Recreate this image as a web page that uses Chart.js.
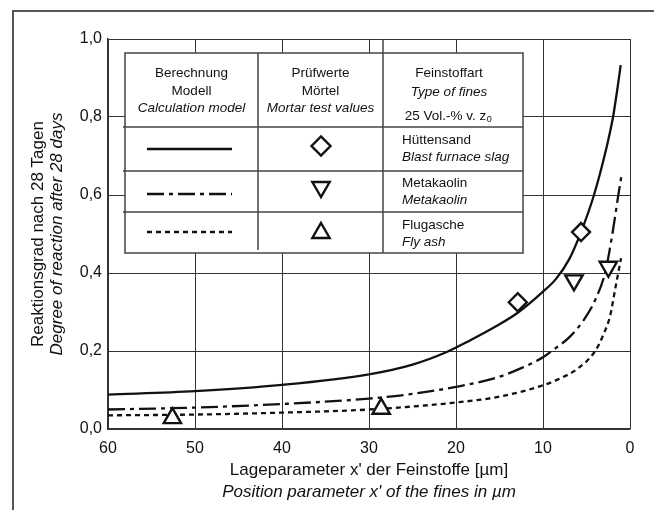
<!DOCTYPE html>
<html>
<head>
<meta charset="utf-8">
<script src="https://cdn.jsdelivr.net/npm/chart.js@4.4.0/dist/chart.umd.min.js"></script>
<style>
  html, body { margin: 0; padding: 0; background: #fff; }
</style>
</head>
<body>
<canvas id="myChart" width="654" height="510"></canvas>
<script>
// axis ticks
const xTickLabels = ['60', '50', '40', '30', '20', '10', '0'];
const yTickLabels = ['0,0', '0,2', '0,4', '0,6', '0,8', '1,0'];

// model curves: position parameter x' (µm) and degree of reaction
const slagX = [60, 50, 40, 30, 25, 21, 18.4, 15.5, 12.9, 10, 8.5, 7, 5.63, 4.14, 2.76, 1.95, 1.4, 1.07];
const slagY = [0.088, 0.097, 0.113, 0.14, 0.165, 0.198, 0.227, 0.262, 0.298, 0.352, 0.385, 0.435, 0.505, 0.6, 0.716, 0.8, 0.88, 0.933];

const metaX = [60, 50, 40, 30, 25, 20, 15.3, 12.5, 10, 9, 6.9, 5.3, 4, 2.87, 2.1, 1.34, 0.95];
const metaY = [0.05, 0.055, 0.064, 0.078, 0.09, 0.108, 0.132, 0.156, 0.184, 0.2, 0.237, 0.28, 0.331, 0.4, 0.49, 0.6, 0.654];

const ashX = [60, 50, 40, 30, 20, 15, 10, 8.4, 6, 4, 3, 2.3, 1.65, 1.03];
const ashY = [0.035, 0.037, 0.042, 0.05, 0.068, 0.083, 0.112, 0.126, 0.155, 0.2, 0.245, 0.289, 0.365, 0.438];

// mortar test values
const slagTestX = [12.9, 5.63];
const slagTestY = [0.325, 0.505];
const metaTestX = [6.44, 2.49];
const metaTestY = [0.381, 0.416];
const ashTestX = [52.6, 28.6];
const ashTestY = [0.028, 0.052];

function pts(xs, ys) {
  return xs.map((x, i) => ({ x: x, y: ys[i] }));
}

const FONT = '"Liberation Sans", Arial, sans-serif';
const INK = '#111';

// white page with the frame around the figure
const framePlugin = {
  id: 'frame',
  beforeDraw(chart) {
    const ctx = chart.ctx;
    ctx.save();
    ctx.fillStyle = '#fff';
    ctx.fillRect(0, 0, chart.width, chart.height);
    ctx.strokeStyle = '#555';
    ctx.lineWidth = 2;
    ctx.beginPath();
    ctx.moveTo(13, chart.height);
    ctx.lineTo(13, 11);
    ctx.lineTo(chart.width, 11);
    ctx.stroke();
    ctx.restore();
  }
};

// two-line axis titles (German / English italic)
const titlePlugin = {
  id: 'titles',
  afterDraw(chart) {
    const ctx = chart.ctx;
    const a = chart.chartArea;
    ctx.save();
    ctx.fillStyle = INK;
    ctx.textAlign = 'center';
    ctx.textBaseline = 'middle';
    const cx = (a.left + a.right) / 2;
    ctx.font = '17px ' + FONT;
    ctx.fillText("Lageparameter x' der Feinstoffe [\u00b5m]", cx, 470);
    ctx.font = 'italic 17px ' + FONT;
    ctx.fillText("Position parameter x' of the fines in \u00b5m", cx, 492);

    const cy = (a.top + a.bottom) / 2;
    ctx.translate(38, cy);
    ctx.rotate(-Math.PI / 2);
    ctx.font = '17px ' + FONT;
    ctx.fillText('Reaktionsgrad nach 28 Tagen', 0, 0);
    ctx.font = 'italic 17px ' + FONT;
    ctx.fillText('Degree of reaction after 28 days', 0, 19);
    ctx.restore();
  }
};

// the key table inside the plot
const keyPlugin = {
  id: 'keyTable',
  afterDatasetsDraw(chart) {
    const ctx = chart.ctx;
    const L = 125, R = 523, T = 53, B = 253;
    const c1 = 258, c2 = 383;
    const rows = [127, 171, 212];
    ctx.save();
    ctx.fillStyle = '#fff';
    ctx.fillRect(L, T, R - L, B - T);
    ctx.strokeStyle = '#444';
    ctx.lineWidth = 1.5;
    ctx.strokeRect(L, T, R - L, B - T);
    ctx.beginPath();
    rows.forEach(y => { ctx.moveTo(L - 2, y); ctx.lineTo(R, y); });
    ctx.moveTo(c1, T); ctx.lineTo(c1, B - 3);
    ctx.moveTo(c2, chart.chartArea.top); ctx.lineTo(c2, B);
    ctx.stroke();

    // header
    ctx.fillStyle = INK;
    ctx.textAlign = 'center';
    ctx.textBaseline = 'middle';
    const m1 = (L + c1) / 2, m2 = (c1 + c2) / 2, m3 = 449;
    ctx.font = '13.5px ' + FONT;
    ctx.fillText('Berechnung', m1, 73);
    ctx.fillText('Modell', m1, 91);
    ctx.fillText('Pr\u00fcfwerte', m2, 73);
    ctx.fillText('M\u00f6rtel', m2, 91);
    ctx.fillText('Feinstoffart', m3, 73);
    ctx.font = 'italic 13.5px ' + FONT;
    ctx.fillText('Calculation model', m1, 108);
    ctx.fillText('Mortar test values', m2, 108);
    ctx.fillText('Type of fines', m3, 92);
    ctx.font = '13.5px ' + FONT;
    ctx.textAlign = 'left';
    const vol = '25 Vol.-% v. z';
    const w = ctx.measureText(vol).width;
    const sx = m3 - (w + 7) / 2;
    ctx.fillText(vol, sx, 116);
    ctx.font = '9px ' + FONT;
    ctx.fillText('0', sx + w + 0.5, 120);

    // row labels
    const names = [['H\u00fcttensand', 'Blast furnace slag', 140],
                   ['Metakaolin', 'Metakaolin', 183],
                   ['Flugasche', 'Fly ash', 225]];
    names.forEach(n => {
      ctx.font = '13.5px ' + FONT;
      ctx.fillText(n[0], 402, n[2]);
      ctx.font = 'italic 13.5px ' + FONT;
      ctx.fillText(n[1], 402, n[2] + 17);
    });

    // line samples
    ctx.strokeStyle = INK;
    ctx.lineWidth = 2.4;
    const samples = [[[], 149], [[17, 5, 4, 5], 194], [[5, 4], 232]];
    samples.forEach(s => {
      ctx.setLineDash(s[0]);
      ctx.beginPath();
      ctx.moveTo(147, s[1]);
      ctx.lineTo(232, s[1]);
      ctx.stroke();
    });
    ctx.setLineDash([]);

    // marker samples
    ctx.fillStyle = '#fff';
    ctx.strokeStyle = INK;
    ctx.lineWidth = 2.4;
    Chart.helpers.drawPoint(ctx, { pointStyle: 'rectRot', radius: 9.5, rotation: 0, borderWidth: 2.4 }, 321, 146);
    Chart.helpers.drawPoint(ctx, { pointStyle: 'triangle', radius: 10, rotation: 180, borderWidth: 2.4 }, 321, 187);
    Chart.helpers.drawPoint(ctx, { pointStyle: 'triangle', radius: 10, rotation: 0, borderWidth: 2.4 }, 321, 233);
    ctx.restore();
  }
};

const markerBase = {
  showLine: false,
  borderColor: INK,
  backgroundColor: '#fff',
  pointBorderWidth: 2.4,
  pointHoverRadius: 10
};

new Chart(document.getElementById('myChart'), {
  type: 'scatter',
  data: {
    datasets: [
      Object.assign({ label: 'H\u00fcttensand test', data: pts(slagTestX, slagTestY),
        pointStyle: 'rectRot', pointRadius: 9 }, markerBase),
      Object.assign({ label: 'Metakaolin test', data: pts(metaTestX, metaTestY),
        pointStyle: 'triangle', pointRadius: 10, pointRotation: 180 }, markerBase),
      Object.assign({ label: 'Flugasche test', data: pts(ashTestX, ashTestY),
        pointStyle: 'triangle', pointRadius: 10 }, markerBase),
      {
        label: 'H\u00fcttensand', data: pts(slagX, slagY), showLine: true,
        borderColor: INK, borderWidth: 2.3, pointRadius: 0,
        cubicInterpolationMode: 'monotone'
      },
      {
        label: 'Metakaolin', data: pts(metaX, metaY), showLine: true,
        borderColor: INK, borderWidth: 2.3, pointRadius: 0, borderDash: [17, 5, 4, 5],
        cubicInterpolationMode: 'monotone'
      },
      {
        label: 'Flugasche', data: pts(ashX, ashY), showLine: true,
        borderColor: INK, borderWidth: 2.3, pointRadius: 0, borderDash: [5, 4],
        cubicInterpolationMode: 'monotone'
      }
    ]
  },
  options: {
    responsive: false,
    animation: false,
    layout: { padding: { left: 0, top: 39, right: 24, bottom: 0 } },
    plugins: {
      legend: { display: false },
      tooltip: { enabled: false }
    },
    scales: {
      x: {
        type: 'linear',
        min: 0, max: 60, reverse: true,
        afterFit(scale) { scale.height = 81; },
        grid: { color: '#333', lineWidth: 1, drawTicks: false },
        border: { color: '#333', width: 1.5 },
        ticks: {
          stepSize: 10, padding: 10, color: INK,
          font: { family: FONT, size: 16 },
          callback: (v) => xTickLabels[6 - Math.round(v / 10)]
        }
      },
      y: {
        min: 0, max: 1,
        afterFit(scale) { scale.width = 108; },
        grid: { color: '#333', lineWidth: 1, drawTicks: false },
        border: { color: '#333', width: 1.5 },
        ticks: {
          stepSize: 0.2, padding: 6, color: INK,
          font: { family: FONT, size: 16 },
          callback: (v) => yTickLabels[Math.round(v / 0.2)]
        }
      }
    }
  },
  plugins: [framePlugin, keyPlugin, titlePlugin]
});
</script>
</body>
</html>
